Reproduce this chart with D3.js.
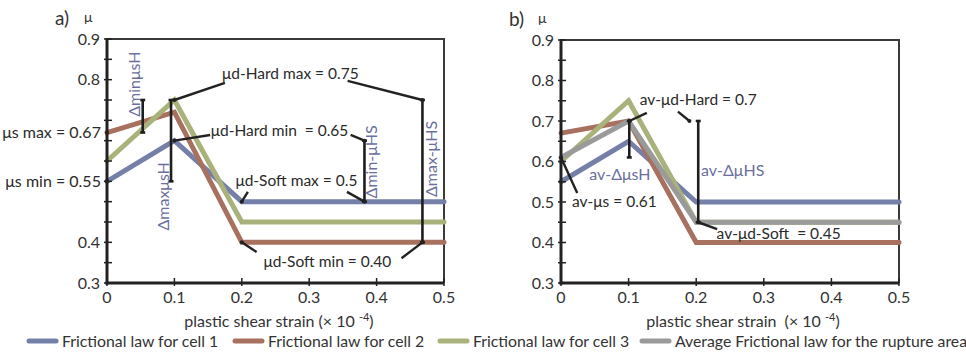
<!DOCTYPE html>
<html><head><meta charset="utf-8">
<script src="https://cdn.jsdelivr.net/npm/d3@7"></script>
<style>
body{margin:0;background:#fff;}
svg{font-family:"Lato","Open Sans",sans-serif;}
</style></head>
<body><svg id="c" width="966" height="355"></svg>
<script>
// ---- data ----
const strain = [0, 0.1, 0.2, 0.5];
const cell1A = [0.55, 0.65, 0.50, 0.50];
const cell2A = [0.67, 0.72, 0.40, 0.40];
const cell3A = [0.60, 0.75, 0.45, 0.45];
const cell1B = [0.55, 0.65, 0.50, 0.50];
const cell2B = [0.67, 0.70, 0.40, 0.40];
const cell3B = [0.60, 0.75, 0.45, 0.45];
const averageB = [0.61, 0.70, 0.45, 0.45];
const xTicks = [0, 0.1, 0.2, 0.3, 0.4, 0.5];
const yMajor = [0.3, 0.4, 0.5, 0.6, 0.7, 0.8, 0.9];
const yMinor = [0.35, 0.45, 0.55, 0.65, 0.75, 0.85];
const yLabelsA = [0.3, 0.4, 0.8, 0.9];
const yLabelsB = [0.3, 0.4, 0.5, 0.6, 0.7, 0.8, 0.9];
const legendNames = ["Frictional law for cell 1","Frictional law for cell 2","Frictional law for cell 3","Average Frictional law for the rupture area"];
const colors = {c1:"#7580a9", c2:"#a8715f", c3:"#a9b27b", av:"#9a9a9a"};
const annoBlue = "#6a6fa0";

const svg = d3.select("#c");

function panel(x0, x1, yTop, yBot, label, yLabels, xTitle, series){
  const x = d3.scaleLinear().domain([0,0.5]).range([x0,x1]);
  const y = d3.scaleLinear().domain([0.3,0.9]).range([yBot,yTop]);
  const g = svg.append("g");
  g.append("path").attr("d",`M${x0},${yTop}H${x1}V${yBot}`).attr("fill","none").attr("stroke","#3a3a3a").attr("stroke-width",2);
  const line = d3.line().x((d,i)=>x(strain[i])).y(d=>y(d));
  series.forEach(s=>{
    g.append("path").datum(s.v).attr("d",line).attr("fill","none")
      .attr("stroke",s.c).attr("stroke-width",5).attr("stroke-linejoin","miter").attr("stroke-linecap","round");
  });
  const ax = g.append("g");
  ax.append("line").attr("x1",x0).attr("x2",x0).attr("y1",yTop-1).attr("y2",yBot+1.5).attr("stroke","#222").attr("stroke-width",3);
  ax.append("line").attr("x1",x0-1.5).attr("x2",x1).attr("y1",yBot).attr("y2",yBot).attr("stroke","#222").attr("stroke-width",3);
  yMajor.concat(yMinor).forEach(v=>{
    ax.append("line").attr("x1",x0-3).attr("x2",x0+5).attr("y1",y(v)).attr("y2",y(v)).attr("stroke","#222").attr("stroke-width",1.5);
  });
  xTicks.forEach(v=>{
    ax.append("line").attr("x1",x(v)).attr("x2",x(v)).attr("y1",yBot+3).attr("y2",yBot-5).attr("stroke","#222").attr("stroke-width",1.5);
    ax.append("text").attr("x",x(v)).attr("y",yBot+20).attr("text-anchor","middle").attr("font-size",16).attr("fill","#333").text(d3.format("")(v));
  });
  yLabels.forEach(v=>{
    ax.append("text").attr("x",x0-7).attr("y",y(v)+5.5).attr("text-anchor","end").attr("font-size",16).attr("fill","#333").text(v.toFixed(1));
  });
  g.append("text").attr("x",x0-52).attr("y",yTop-14).attr("font-size",19).attr("fill","#333").text(label);
  g.append("text").attr("x",x0-23).attr("y",yTop-17).attr("font-size",14).attr("fill","#333").text("μ");
  const t = g.append("text").attr("x",xTitle.cx).attr("y",yBot+44).attr("text-anchor","middle").attr("font-size",16).attr("fill","#333").style("white-space","pre");
  t.append("tspan").text(xTitle.txt);
  t.append("tspan").attr("dy",-6).attr("font-size",11).text("-4");
  t.append("tspan").attr("dy",6).text(")");
  return {x,y,g};
}

function bar(p, xv, y1, y2){
  const g=p.g;
  g.append("line").attr("x1",p.x(xv)).attr("x2",p.x(xv)).attr("y1",p.y(y1)).attr("y2",p.y(y2)).attr("stroke","#1e1e1e").attr("stroke-width",2.6);
  [y1,y2].forEach(v=>g.append("line").attr("x1",p.x(xv)-2.5).attr("x2",p.x(xv)+2.5).attr("y1",p.y(v)).attr("y2",p.y(v)).attr("stroke","#1e1e1e").attr("stroke-width",2.6));
}
function leader(p, a, b){
  p.g.append("line").attr("x1",p.x(a[0])).attr("y1",p.y(a[1])).attr("x2",p.x(b[0])).attr("y2",p.y(b[1])).attr("stroke","#222").attr("stroke-width",2.4);
  p.g.append("circle").attr("cx",p.x(a[0])).attr("cy",p.y(a[1])).attr("r",2).attr("fill","#222");
}
function label(p, xv, yv, txt, opts={}){
  p.g.append("text").attr("x",p.x(xv)).attr("y",p.y(yv)).attr("dy","0.35em")
    .attr("text-anchor",opts.anchor||"middle").attr("font-size",opts.size||15.5)
    .attr("fill",opts.color||"#2a2a2a").style("white-space","pre").text(txt);
}
function vlabel(p, xv, yv, txt){
  p.g.append("text").attr("transform",`translate(${p.x(xv)},${p.y(yv)}) rotate(-90)`).attr("dy","0.35em")
    .attr("text-anchor","middle").attr("font-size",16).attr("fill",annoBlue).text(txt);
}

// ---- panel a ----
const A = panel(107, 444, 39, 283, "a)", yLabelsA, {cx:279, txt:"plastic shear strain (× 10 "},
  [{v:cell1A,c:colors.c1},{v:cell2A,c:colors.c2},{v:cell3A,c:colors.c3}]);
bar(A, 0.053, 0.67, 0.75);
bar(A, 0.095, 0.55, 0.75);
bar(A, 0.382, 0.50, 0.65);
bar(A, 0.468, 0.40, 0.75);
vlabel(A, 0.040, 0.789, "ΔminμsH");
vlabel(A, 0.084, 0.513, "ΔmaxμsH");
vlabel(A, 0.393, 0.598, "Δmin-μHS");
vlabel(A, 0.481, 0.605, "Δmax-μHS");
leader(A, [0.1,0.75], [0.175,0.792]);
leader(A, [0.468,0.75], [0.357,0.797]);
label(A, 0.272, 0.816, "μd-Hard max = 0.75");
leader(A, [0.1,0.65], [0.153,0.664]);
leader(A, [0.382,0.65], [0.3615,0.664]);
label(A, 0.256, 0.676, "μd-Hard min  = 0.65");
leader(A, [0.2,0.5], [0.209,0.524]);
leader(A, [0.382,0.5], [0.356,0.524]);
label(A, 0.281, 0.551, "μd-Soft max = 0.5");
leader(A, [0.2,0.4], [0.222,0.376]);
leader(A, [0.468,0.4], [0.437,0.361]);
label(A, 0.327, 0.352, "μd-Soft min = 0.40");
A.g.append("circle").attr("cx",A.x(0)).attr("cy",A.y(0.67)).attr("r",2).attr("fill","#222");
A.g.append("circle").attr("cx",A.x(0)).attr("cy",A.y(0.55)).attr("r",2).attr("fill","#222");
label(A, -0.009, 0.67, "μs max = 0.67", {anchor:"end", size:16});
label(A, -0.009, 0.55, "μs min = 0.55", {anchor:"end", size:16});

// ---- panel b ----
const B = panel(561, 899, 40, 283, "b)", yLabelsB, {cx:743, txt:"plastic shear strain  (× 10 "},
  [{v:cell1B,c:colors.c1},{v:cell2B,c:colors.c2},{v:cell3B,c:colors.c3},{v:averageB,c:colors.av}]);
bar(B, 0.101, 0.61, 0.70);
bar(B, 0.203, 0.45, 0.70);
leader(B, [0.101,0.70], [0.127,0.72]);
leader(B, [0.19,0.70], [0.173,0.723]);
label(B, 0.203, 0.752, "av-μd-Hard = 0.7");
label(B, 0.087, 0.569, "av-ΔμsH", {color:annoBlue, size:16});
label(B, 0.254, 0.579, "av-ΔμHS", {color:annoBlue, size:16});
leader(B, [0,0.61], [0.024,0.522]);
label(B, 0.079, 0.50, "av-μs = 0.61");
leader(B, [0.203,0.45], [0.231,0.433]);
label(B, 0.322, 0.423, "av-μd-Soft  = 0.45");

// ---- legend ----
const legX = [27, 233, 438, 640];
const legC = [colors.c1, colors.c2, colors.c3, colors.av];
legendNames.forEach((n,i)=>{
  svg.append("line").attr("x1",legX[i]+2).attr("x2",legX[i]+29).attr("y1",341).attr("y2",341).attr("stroke",legC[i]).attr("stroke-width",5).attr("stroke-linecap","round");
  svg.append("text").attr("x",legX[i]+35).attr("y",346.5).attr("font-size",15.8).attr("fill","#333").text(n);
});
</script></body></html>
